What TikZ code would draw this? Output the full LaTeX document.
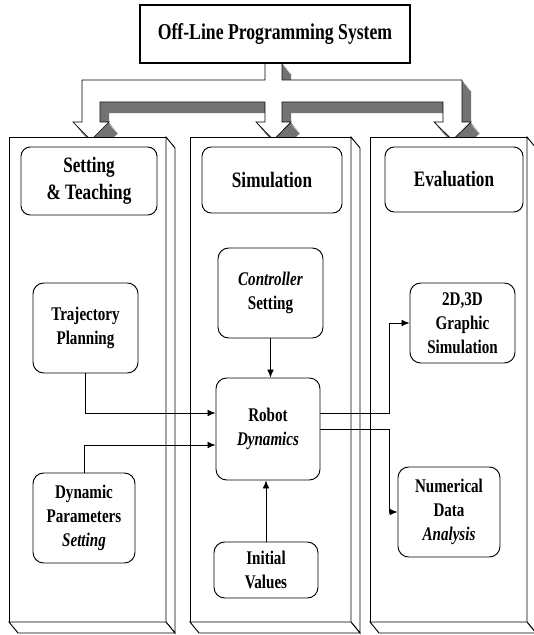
\documentclass[tikz,border=0pt]{standalone}
\usepackage{fontspec}
\setmainfont{Liberation Serif}[FakeStretch=0.78]
\usetikzlibrary{arrows.meta}
\tikzset{
  slab/.style={draw, line width=0.7pt, fill=white},
  band/.style={fill=black!55},
  feed/.style={insert path={(265,63) -- (265,80) -- (82,80) -- (82,122) -- (73,122) -- (91,140)
      -- (109,122) -- (100,122) -- (100,102) -- (265,102) -- (265,122) -- (256,122) -- (273.5,140)
      -- (291,122) -- (282,122) -- (282,102) -- (443,102) -- (443,122) -- (434,122) -- (452.5,140)
      -- (471,122) -- (462,122) -- (462,80) -- (282,80) -- (282,63) -- cycle}},
  head/.style={draw, fill=white, rounded corners=7pt, line width=0.7pt, align=center,
      font=\fontsize{16.5}{20}\selectfont\bfseries},
  unit/.style={draw, fill=white, rounded corners=8pt, line width=0.7pt, align=center,
      font=\fontsize{14.5}{18}\selectfont\bfseries},
  conn/.style={line width=0.6pt, -{Latex[length=6pt,width=5pt]}}
}

\begin{document}
\begin{tikzpicture}[x=0.75pt,y=-0.75pt]
\useasboundingbox (0,0) rectangle (534,635);

% shaded feed arrow
\foreach \k in {10,...,1} {
    \fill[band, shift={(0.9*\k,1.1*\k)}, feed];
}
\filldraw[fill=white, line width=0.5pt, feed];

% panels
\foreach \xa/\xb in {9/166,190/351,370/527} {
    \filldraw[slab] (\xa,137) rectangle (\xb,622);
    \filldraw[slab] (\xb,137) -- (\xb+9,148) -- (\xb+9,633) -- (\xb,622) -- cycle;
    \filldraw[slab] (\xa,622) -- (\xb,622) -- (\xb+9,633) -- (\xa+9,633) -- cycle;
}

\node[draw, fill=white, line width=1.3pt, minimum width=202.5pt, minimum height=43.5pt,
      font=\fontsize{17}{20}\selectfont\bfseries] (title) at (275,34) {Off-Line Programming System};

% column heads
\node[head, minimum width=102pt, minimum height=51pt] (setting) at (89,181) {Setting\\\& Teaching};
\node[head, minimum width=105pt, minimum height=49.5pt] (simul) at (272,180) {Simulation};
\node[head, minimum width=103.5pt, minimum height=48.75pt] (evalu) at (454,179.5) {Evaluation};

% blocks
\node[unit, minimum width=78.75pt, minimum height=67.5pt] (traj) at (85.5,328) {Trajectory\\Planning};
\node[unit, minimum width=76.5pt, minimum height=67.5pt] (dynpar) at (84,518) {Dynamic\\Parameters\\\textit{Setting}};
\node[unit, minimum width=78.75pt, minimum height=67.5pt] (ctrl) at (270.5,293) {\textit{Controller}\\Setting};
\node[unit, minimum width=78pt, minimum height=76.5pt] (robot) at (268,429) {Robot\\\textit{Dynamics}};
\node[unit, minimum width=78pt, minimum height=42pt] (initval) at (266,570) {Initial\\Values};
\node[unit, minimum width=78.75pt, minimum height=60pt] (graph) at (462.5,323) {2D,3D\\Graphic\\Simulation};
\node[unit, minimum width=76.5pt, minimum height=67.5pt] (numdata) at (449,512) {Numerical\\Data\\\textit{Analysis}};

% connectors
\draw[conn] (traj.south) |- ([yshift=12pt]robot.west);
\draw[conn] (dynpar.north) |- ([yshift=-12pt]robot.west);
\draw[conn] (ctrl.south) -- (ctrl.south |- robot.north);
\draw[conn] (initval.north) -- (initval.north |- robot.south);
\draw[conn] ([yshift=12pt]robot.east) -| ([xshift=-15pt]graph.west) -- (graph.west);
\draw[conn] (robot.east) -| ([xshift=-6pt]numdata.west) -- (numdata.west);
\end{tikzpicture}
\end{document}
